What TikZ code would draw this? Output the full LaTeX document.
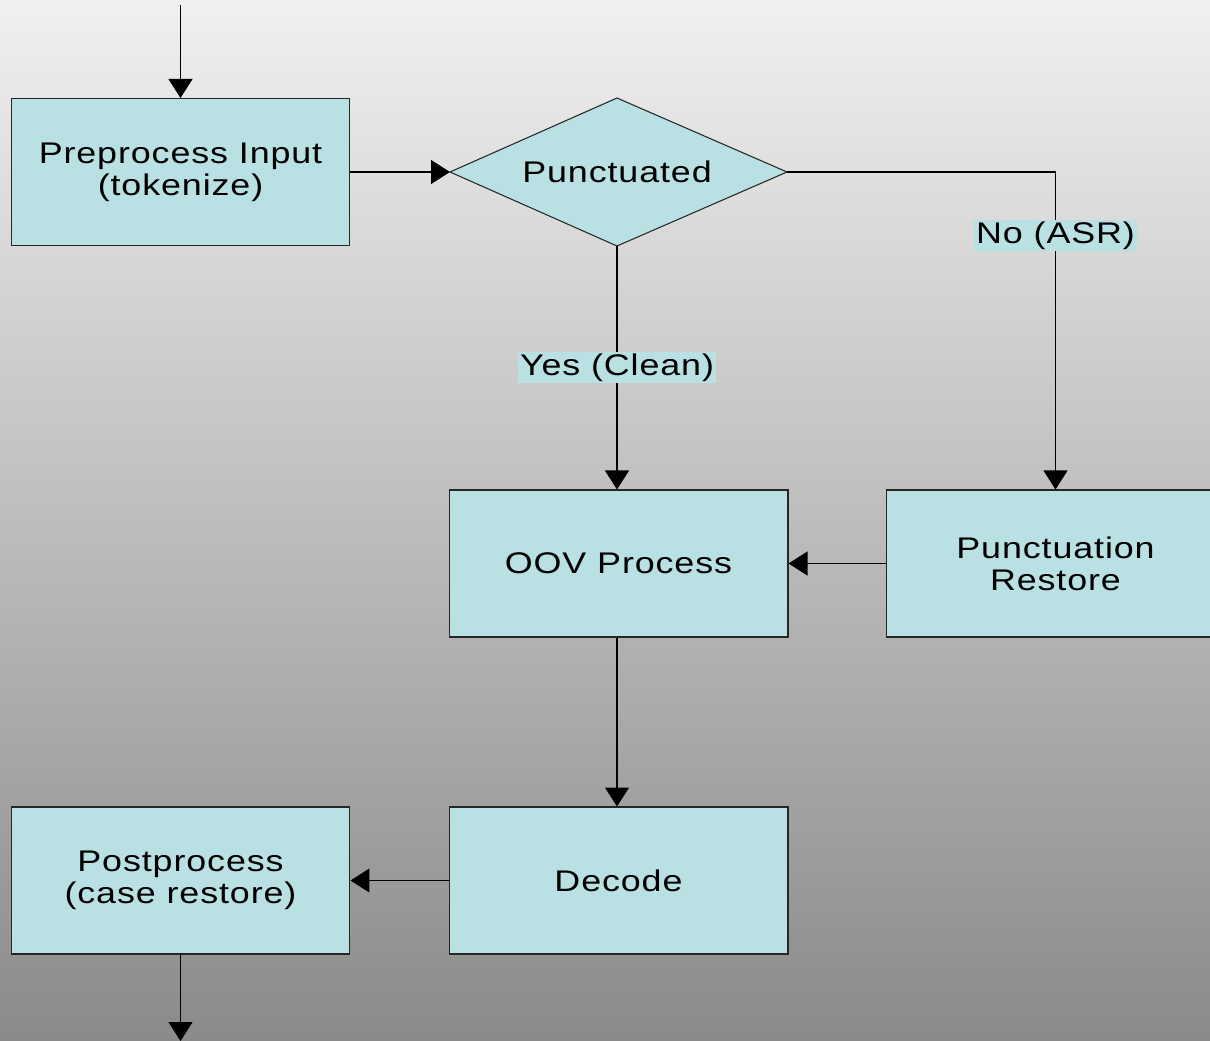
\documentclass[tikz,border=0pt]{standalone}
\usepackage{fontspec}
\setmainfont{Liberation Sans}[FakeStretch=1.2, LetterSpace=3]
\usetikzlibrary{arrows.meta}
\definecolor{boxblue}{HTML}{B9E0E3}
\definecolor{bgtop}{HTML}{F0F0F0}
\definecolor{bgbot}{HTML}{8A8A8A}
\tikzset{>={Triangle[length=0.38cm,width=0.48cm]},
  every node/.style={font=\fontsize{17}{18.3}\selectfont, align=center},
  box/.style={draw=black!85, fill=boxblue, line width=0.6pt,
    minimum width=6.78cm, minimum height=2.94cm, inner sep=0pt},
  decision/.style={draw=black!85, fill=boxblue, line width=0.6pt},
  lbl/.style={fill=boxblue, inner sep=1pt}}

\begin{document}
\begin{tikzpicture}[x=0.02cm, y=-0.02cm, line width=0.6pt]
  \useasboundingbox (0,0) rectangle (1210,1041);
  \clip (0,0) rectangle (1210,1041);
  \shade[top color=bgtop, bottom color=bgbot] (0,0) rectangle (1210,1041);

  \node[box] (pre) at (180.5,172) {Preprocess Input\\(tokenize)};
  \draw[decision] (450,172) -- (617,98) -- (787,172) -- (617,246) -- cycle;
  \coordinate (punc) at (617,172);
  \node (punctxt) at (punc) {Punctuated};
  \coordinate (puncw) at (450,172);
  \coordinate (punce) at (787,172);
  \coordinate (puncs) at (617,246);
  \node[box] (oov) at (618.5,563.5) {OOV Process};
  \node[box] (rest) at (1055.5,563.5) {Punctuation\\Restore};
  \node[box] (dec) at (618.5,880.5) {Decode};
  \node[box] (post) at (180.5,880.5) {Postprocess\\(case restore)};
  \coordinate (in) at (pre.north |- 0,5);
  \coordinate (out) at (pre.south |- 0,1041);

  \draw[->] (in) -- (pre.north);
  \draw[->] (pre.east |- puncw) -- (puncw);
  \draw[->] (punce) -| node[lbl, pos=0.6] {No (ASR)} (rest.north);
  \draw[->] (puncs) -- node[lbl, pos=0.5] {Yes (Clean)} (oov.north -| puncs);
  \draw[->] (rest.west) -- (oov.east);
  \draw[->] (oov.south -| puncs) -- (dec.north -| puncs);
  \draw[->] (dec.west) -- (post.east);
  \draw[->] (post.south |- 0,953) -- (out);
\end{tikzpicture}
\end{document}
